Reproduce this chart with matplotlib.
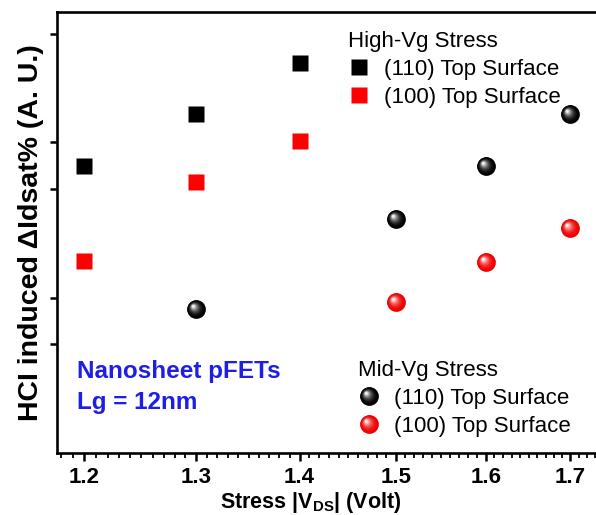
import numpy as np
import matplotlib.pyplot as plt
from matplotlib.path import Path
from matplotlib.legend_handler import HandlerTuple
from matplotlib.colors import to_rgb

plt.rcParams['font.family'] = ['Liberation Sans', 'DejaVu Sans']
plt.rcParams['mathtext.fontset'] = 'custom'
plt.rcParams['mathtext.rm'] = 'Liberation Sans'
plt.rcParams['mathtext.bf'] = 'Liberation Sans:bold'

# stress drain voltage |Vds| (V)
vds_high = [1.2, 1.3, 1.4]
vds_mid_110 = [1.3, 1.5, 1.6, 1.7]
vds_mid_100 = [1.5, 1.6, 1.7]

# HCI induced dIdsat% (arbitrary units)
high_110 = [142, 307, 652]
high_100 = [34.5, 112, 203]
mid_110 = [17.0, 64, 142, 305]
mid_100 = [18.9, 34.0, 56]

x_ticks = [1.2, 1.3, 1.4, 1.5, 1.6, 1.7]
x_minor = np.round(np.arange(1.17, 1.75, 0.01), 2)
y_ticks = [10, 20, 100, 200, 1000]

BLUE = '#1e1ee6'
RED = '#ff0000'


def ball_layers(color, n=14):
    """Stacked off-centre circle markers that fake a shaded sphere."""
    base = np.array(to_rgb(color))
    layers = []
    for i in range(n):
        t = i / (n - 1)
        r = 1.0 - 0.86 * t
        cx, cy = -0.34 * t, 0.34 * t
        circ = Path.circle((cx, cy), r)
        # two empty moves pin the marker box to [-1, 1]
        verts = np.vstack([[[1, 1], [-1, -1]], circ.vertices])
        codes = np.concatenate([[Path.MOVETO, Path.MOVETO], circ.codes])
        mix = min(1.0, 0.95 * t ** 2.2)
        col = base + (1 - base) * mix
        layers.append((Path(verts, codes), tuple(col)))
    return layers


def plot_balls(ax, x, y, color, ms=13.5):
    handles = []
    for path, col in ball_layers(color):
        ln, = ax.plot(x, y, ls='none', marker=path, ms=ms,
                      mfc=col, mec='none', zorder=3)
        handles.append(ln)
    return tuple(handles)


fig = plt.figure(figsize=(5.96, 5.15), dpi=100)
ax = fig.add_axes([57 / 596, 62 / 515, (610 - 57) / 596, (453 - 12) / 515])

ax.set_xscale('log')
ax.set_yscale('log')

sq_kw = dict(ls='none', marker='s', ms=11.5, mec='none', zorder=3)
h110, = ax.plot(vds_high, high_110, mfc='black', **sq_kw)
h100, = ax.plot(vds_high, high_100, mfc=RED, **sq_kw)
m110 = plot_balls(ax, vds_mid_110, mid_110, 'black')
m100 = plot_balls(ax, vds_mid_100, mid_100, '#f00000')

ax.set_xlim(1.1766, 1.749)
ax.set_ylim(2.0, 1383)

ax.xaxis.set_major_locator(plt.FixedLocator(x_ticks))
ax.xaxis.set_minor_locator(plt.FixedLocator(x_minor))
ax.xaxis.set_major_formatter(plt.FixedFormatter([f'{v:.1f}' for v in x_ticks]))
ax.xaxis.set_minor_formatter(plt.NullFormatter())
ax.yaxis.set_major_locator(plt.FixedLocator(y_ticks))
ax.yaxis.set_minor_locator(plt.NullLocator())
ax.yaxis.set_major_formatter(plt.NullFormatter())

ax.tick_params(axis='x', which='major', direction='out', length=6, width=1.8,
               labelsize=16, pad=4)
ax.tick_params(axis='x', which='minor', direction='out', length=3.5, width=1.3)
ax.tick_params(axis='y', direction='out', length=5, width=1.8)
for lab in ax.get_xticklabels():
    lab.set_fontweight('bold')
for sp in ax.spines.values():
    sp.set_linewidth(1.9)

ax.set_ylabel('HCI induced \u0394Idsat% (A. U.)', fontsize=20.5,
              fontweight='bold', labelpad=1)
ax.set_xlabel(r'Stress |V$_\mathbf{DS}$| (Volt)', fontsize=15.5,
              fontweight='bold')
ax.xaxis.set_label_coords((311 - 57) / (610 - 57), -0.084)

ax.text(77 / 596, (515 - 387) / 515, 'Nanosheet pFETs\nLg = 12nm',
        transform=fig.transFigure, color=BLUE, fontsize=17.5,
        fontweight='bold', va='center', ha='left', linespacing=1.45)

leg_kw = dict(frameon=False, fontsize=16, title_fontsize=16, loc='upper left',
              alignment='left', handlelength=1.0, handletextpad=0.6,
              labelspacing=0.3, borderpad=0, borderaxespad=0,
              bbox_transform=fig.transFigure)

leg1 = ax.legend([h110, h100], ['(110) Top Surface', '(100) Top Surface'],
                 title='High-Vg Stress',
                 bbox_to_anchor=(348 / 596, (515 - 31) / 515), **leg_kw)
leg1._legend_box.sep = 5
ax.add_artist(leg1)

leg2 = ax.legend([m110, m100], ['(110) Top Surface', '(100) Top Surface'],
                 title='Mid-Vg Stress',
                 handler_map={tuple: HandlerTuple(ndivide=1, pad=0)},
                 bbox_to_anchor=(358 / 596, (515 - 360) / 515), **leg_kw)
leg2._legend_box.sep = 5

fig.savefig('out.png', dpi=100)
